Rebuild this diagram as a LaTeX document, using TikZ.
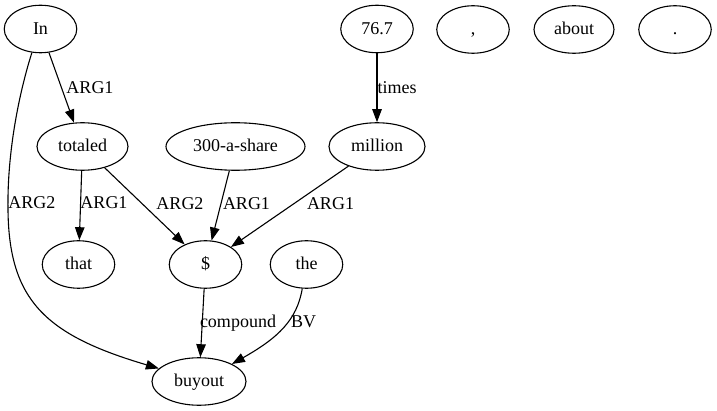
\documentclass[tikz,border=0pt]{standalone}
\usepackage{fontspec}
\setmainfont{Liberation Serif}
\usetikzlibrary{shapes.geometric,arrows.meta}
\begin{document}
\begin{tikzpicture}[x=1pt,y=-1pt,
  every node/.style={font=\fontsize{18}{21}\selectfont, text height=13.5pt, text depth=2.7pt, inner sep=0pt},
  tok/.style={ellipse, draw, line width=1.1pt, minimum height=47.5pt, minimum width=72.5pt},
  edge/.style={draw, line width=1.1pt, -{Triangle[length=13pt,width=9.5pt]}}]
\path[fill=white] (0,0) rectangle (717,411);
\useasboundingbox (0,0) rectangle (717,411);
\node[tok] (In) at (40.5,29) {In};
\node[tok] (n767) at (377,29) {76.7};
\node[tok] (comma) at (473,29.5) {,};
\node[tok, minimum width=80pt] (about) at (574,29.5) {about};
\node[tok] (dot) at (675,29.5) {.};
\node[tok, minimum width=91pt] (totaled) at (82.5,146.5) {totaled};
\node[tok, minimum width=139pt] (share) at (235.5,146.5) {300-a-share};
\node[tok, minimum width=96pt] (million) at (377,146.5) {million};
\node[tok] (that) at (78.5,264.5) {that};
\node[tok] (dollar) at (205.5,264.5) {\$};
\node[tok] (the) at (306.5,264.5) {the};
\node[tok, minimum width=94pt] (buyout) at (199,381.5) {buyout};

\draw[edge] (In) -- (totaled);
\draw[edge] (n767) -- (million);
\draw[edge] (totaled) -- (that);
\draw[edge] (totaled) -- (dollar);
\draw[edge] (share) -- (dollar);
\draw[edge] (million) -- (dollar);
\draw[edge] (dollar) -- (buyout);
\draw[edge] (the.-100) .. controls (297,320) and (278,338) .. (buyout.28);
\draw[edge] (In.-110) .. controls (20,90) and (7,150) .. (8,210)
  .. controls (9,300) and (45,335) .. (buyout.162);

\node (l1) at (90,88) {ARG1};
\node (l2) at (397,88) {times};
\node (l3) at (32,203) {ARG2};
\node (l4) at (104,203) {ARG1};
\node (l5) at (180,204) {ARG2};
\node (l6) at (246.5,204) {ARG1};
\node (l7) at (330.5,204) {ARG1};
\node (l8) at (238,322) {compound};
\node (l9) at (303.5,322) {BV};
\end{tikzpicture}
\end{document}
